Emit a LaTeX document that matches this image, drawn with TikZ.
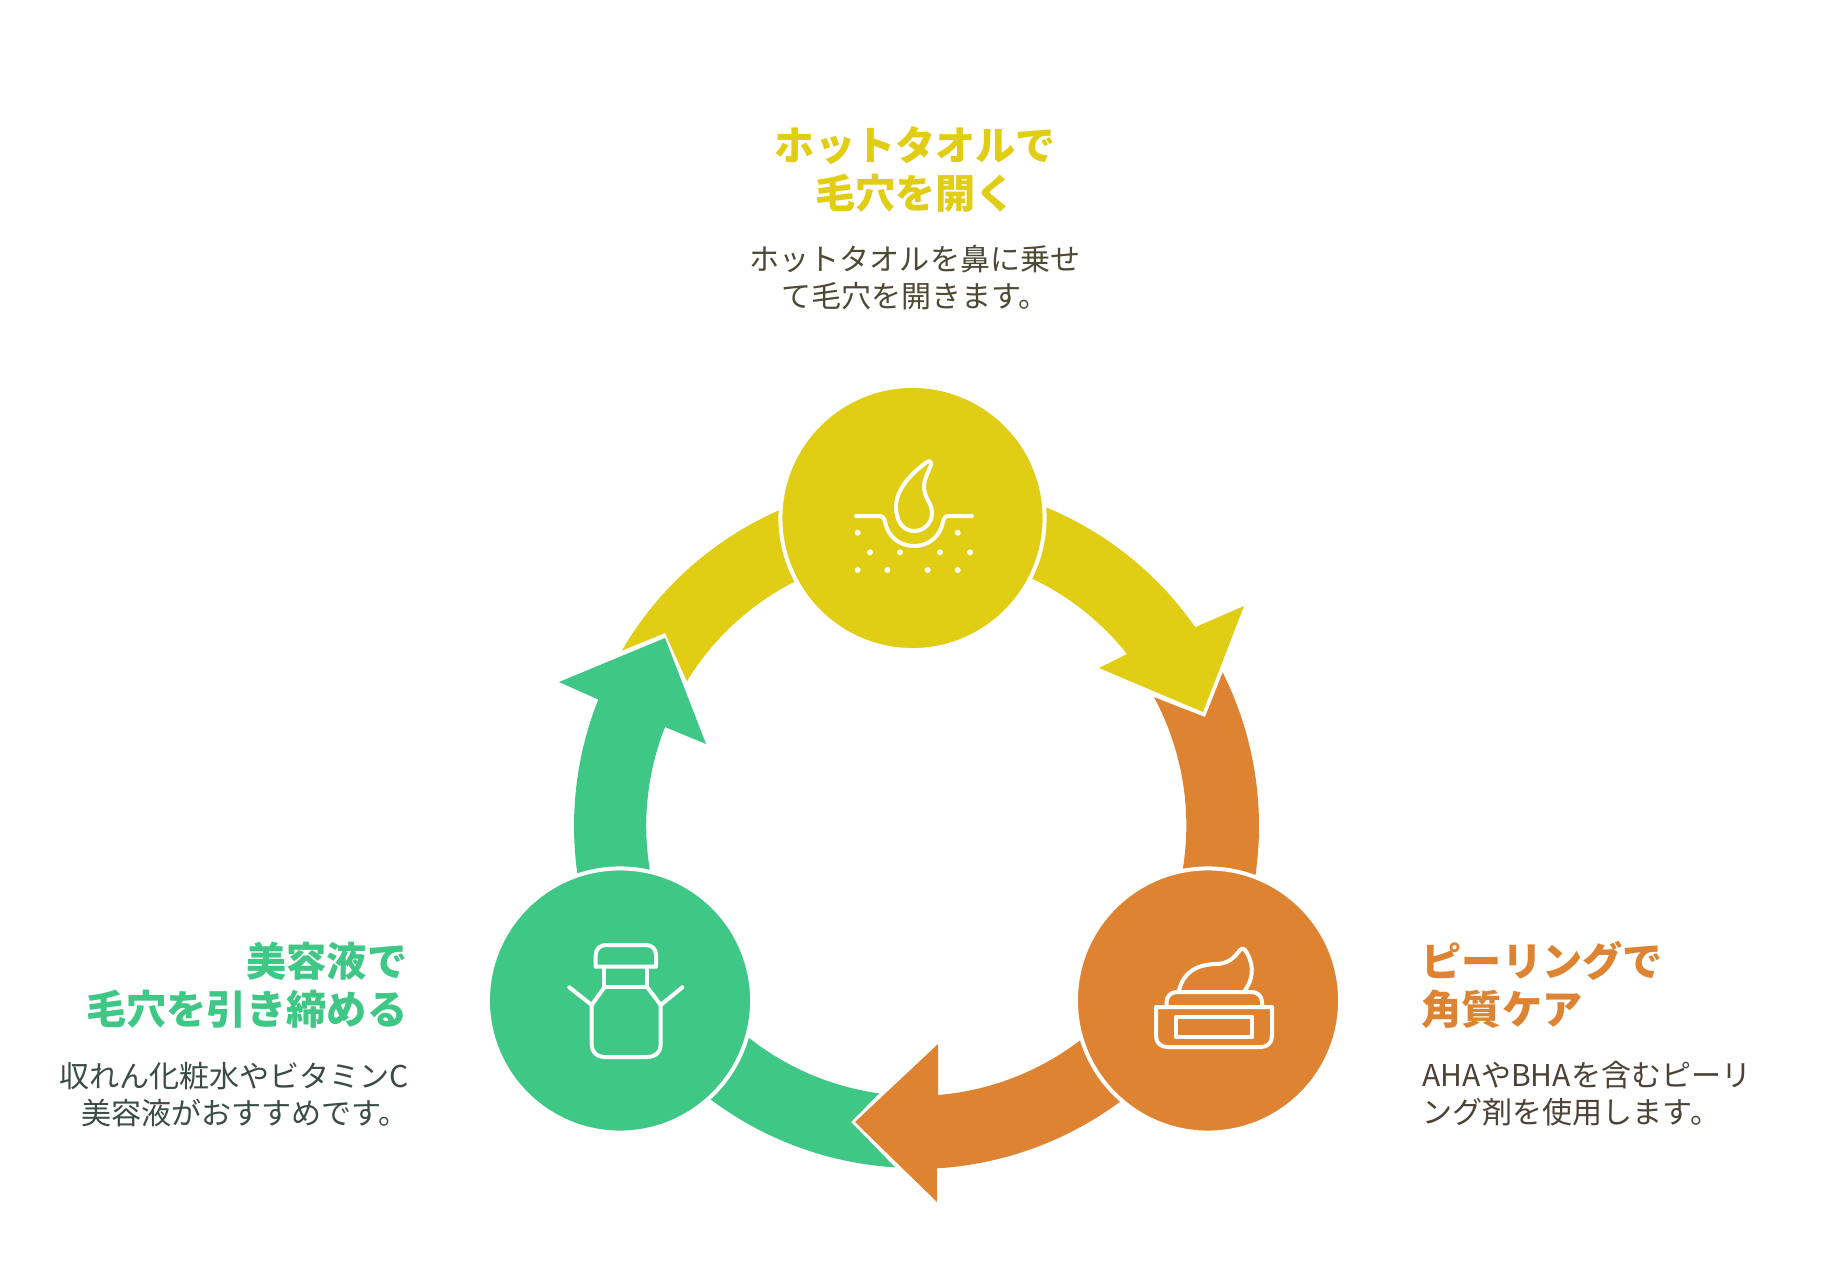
\documentclass[tikz,border=0pt]{standalone}
\usepackage{fontspec}
\setmainfont{Noto Sans CJK JP}
\usepackage{tikz}
\definecolor{yellowstep}{HTML}{E0CD14}
\definecolor{orangestep}{HTML}{DE8331}
\definecolor{greenstep}{HTML}{3EC785}
\definecolor{yellowtext}{HTML}{4D4A33}
\definecolor{orangetext}{HTML}{4D4236}
\definecolor{greentext}{HTML}{3A4D45}
\tikzset{
	stepcircle/.style={circle, draw=white, line width=0.04cm, minimum size=2.64cm, inner sep=0pt},
	steptitle/.style={font=\fontsize{11.42}{13.6}\selectfont\bfseries, inner sep=0pt},
	steptext/.style={font=\fontsize{8.54}{10.53}\selectfont, inner sep=0pt},
	iconline/.style={draw=white, line width=0.04cm, line cap=round, line join=round}
}

\begin{document}
\begin{tikzpicture}[x=0.01cm,y=-0.01cm]
	\path[use as bounding box, fill=white] (0,0) rectangle (1828,1276);

	% arrows of the ring
	\fill[yellowstep] (916,822) ++(210.2:340.5) arc [start angle=210.2, end angle=325.1, radius=340.5]
		-- (1244,606) -- (1203,712) -- (1099,668) -- (1127,654)
		arc [start angle=321.5, end angle=211.4, radius=269] -- (665,633) -- cycle;
	\fill[orangestep] (916,826) ++(333.4:343) arc [start angle=333.4, end angle=446.5, radius=343]
		-- (937,1202) -- (855,1122) -- (938,1044) -- (938,1095)
		arc [start angle=85.3, end angle=-28.3, radius=270.5] -- (1205,717) -- cycle;
	\fill[greenstep] (916,826) ++(93.5:342) arc [start angle=93.5, end angle=201.7, radius=342]
		-- (559,682) -- (665,638) -- (706,744) -- (665,727)
		arc [start angle=201.5, end angle=97.9, radius=270] -- (851,1122) -- cycle;

	% circles
	\node[stepcircle, fill=yellowstep] (circletop) at (912.5,518) {};
	\node[stepcircle, fill=orangestep] (circleright) at (1208,1000.5) {};
	\node[stepcircle, fill=greenstep] (circleleft) at (620,1000.5) {};

	% pore icon
	\draw[iconline] (856,516) -- (879,516) .. controls (883,516) and (884,518) .. (885,522)
		.. controls (888,537) and (900,546) .. (914,546) .. controls (928,546) and (940,537) .. (943,522)
		.. controls (944,518) and (945,516) .. (949,516) -- (972,516);
	\draw[iconline] (927,462) .. controls (910,474) and (896,490) .. (896,507)
		.. controls (896,521) and (903,531) .. (914,531) .. controls (925,531) and (932,522) .. (932,513)
		.. controls (932,503) and (924,498) .. (924,487) .. controls (924,480) and (928,472) .. (931,465)
		.. controls (932,462) and (929,460) .. (927,462) -- cycle;
	\fill[white] (857.7,532.7) circle [radius=3] (957.7,532.7) circle [radius=3]
		(870,552.3) circle [radius=3] (900,552.3) circle [radius=3]
		(940,552.3) circle [radius=3] (970,552.3) circle [radius=3]
		(857.7,570) circle [radius=3] (887.3,570) circle [radius=3]
		(927.7,570) circle [radius=3] (957.7,570) circle [radius=3];

	% cream jar icon
	\draw[iconline] (1156,1007) -- (1272,1007) -- (1272,1036) .. controls (1272,1043) and (1267,1047) .. (1261,1047)
		-- (1167,1047) .. controls (1161,1047) and (1156,1043) .. (1156,1036) -- cycle;
	\draw[iconline, rounded corners=0.1cm] (1166.5,1005) -- (1166.5,992) -- (1262,992) -- (1262,1005);
	\draw[iconline] (1176,1016.7) rectangle (1252.3,1037.3);
	\draw[iconline] (1179,990) .. controls (1184,972) and (1196,965) .. (1215,964)
		.. controls (1228,964) and (1234,958) .. (1240,950) .. controls (1242,948) and (1244,948) .. (1245,950)
		.. controls (1252,960) and (1256,975) .. (1245,990);

	% bottle icon
	\draw[iconline] (595.7,966.7) -- (595.7,955) .. controls (595.7,949) and (600,945) .. (606,945)
		-- (646,945) .. controls (652,945) and (656,949) .. (656,955) -- (656,966.7) -- cycle;
	\draw[iconline] (604.3,967) -- (604.3,987.3) -- (647.3,987.3) -- (647.3,967);
	\draw[iconline] (604.3,987.3) -- (591.7,1005) -- (591.7,1045) .. controls (591.7,1052) and (597,1057) .. (604,1057)
		-- (648,1057) .. controls (655,1057) and (660.7,1052) .. (660.7,1045) -- (660.7,1005) -- (647.3,987.3);
	\draw[iconline] (569.3,987.3) -- (591.7,1005);
	\draw[iconline] (682.3,987.3) -- (660.7,1005);

	% texts
	\node[steptitle, text=yellowstep, align=center] (titletop) at (915.5,169) {ホットタオルで\\毛穴を開く};
	\node[steptext, text=yellowtext, align=center] (texttop) at (915,278) {ホットタオルを鼻に乗せ\\て毛穴を開きます。};
	\node[steptitle, text=orangestep, align=left, anchor=west] (titleright) at (1421,985) {ピーリングで\\角質ケア};
	\node[steptext, text=orangetext, align=left, anchor=west] (textright) at (1422,1094) {AHAやBHAを含むピーリ\\ング剤を使用します。};
	\node[steptitle, text=greenstep, align=right, anchor=east] (titleleft) at (408,985) {美容液で\\毛穴を引き締める};
	\node[steptext, text=greentext, align=center] (textleft) at (234,1094.5) {収れん化粧水やビタミンC\\\hspace*{0.22cm}美容液がおすすめです。};
\end{tikzpicture}
\end{document}
